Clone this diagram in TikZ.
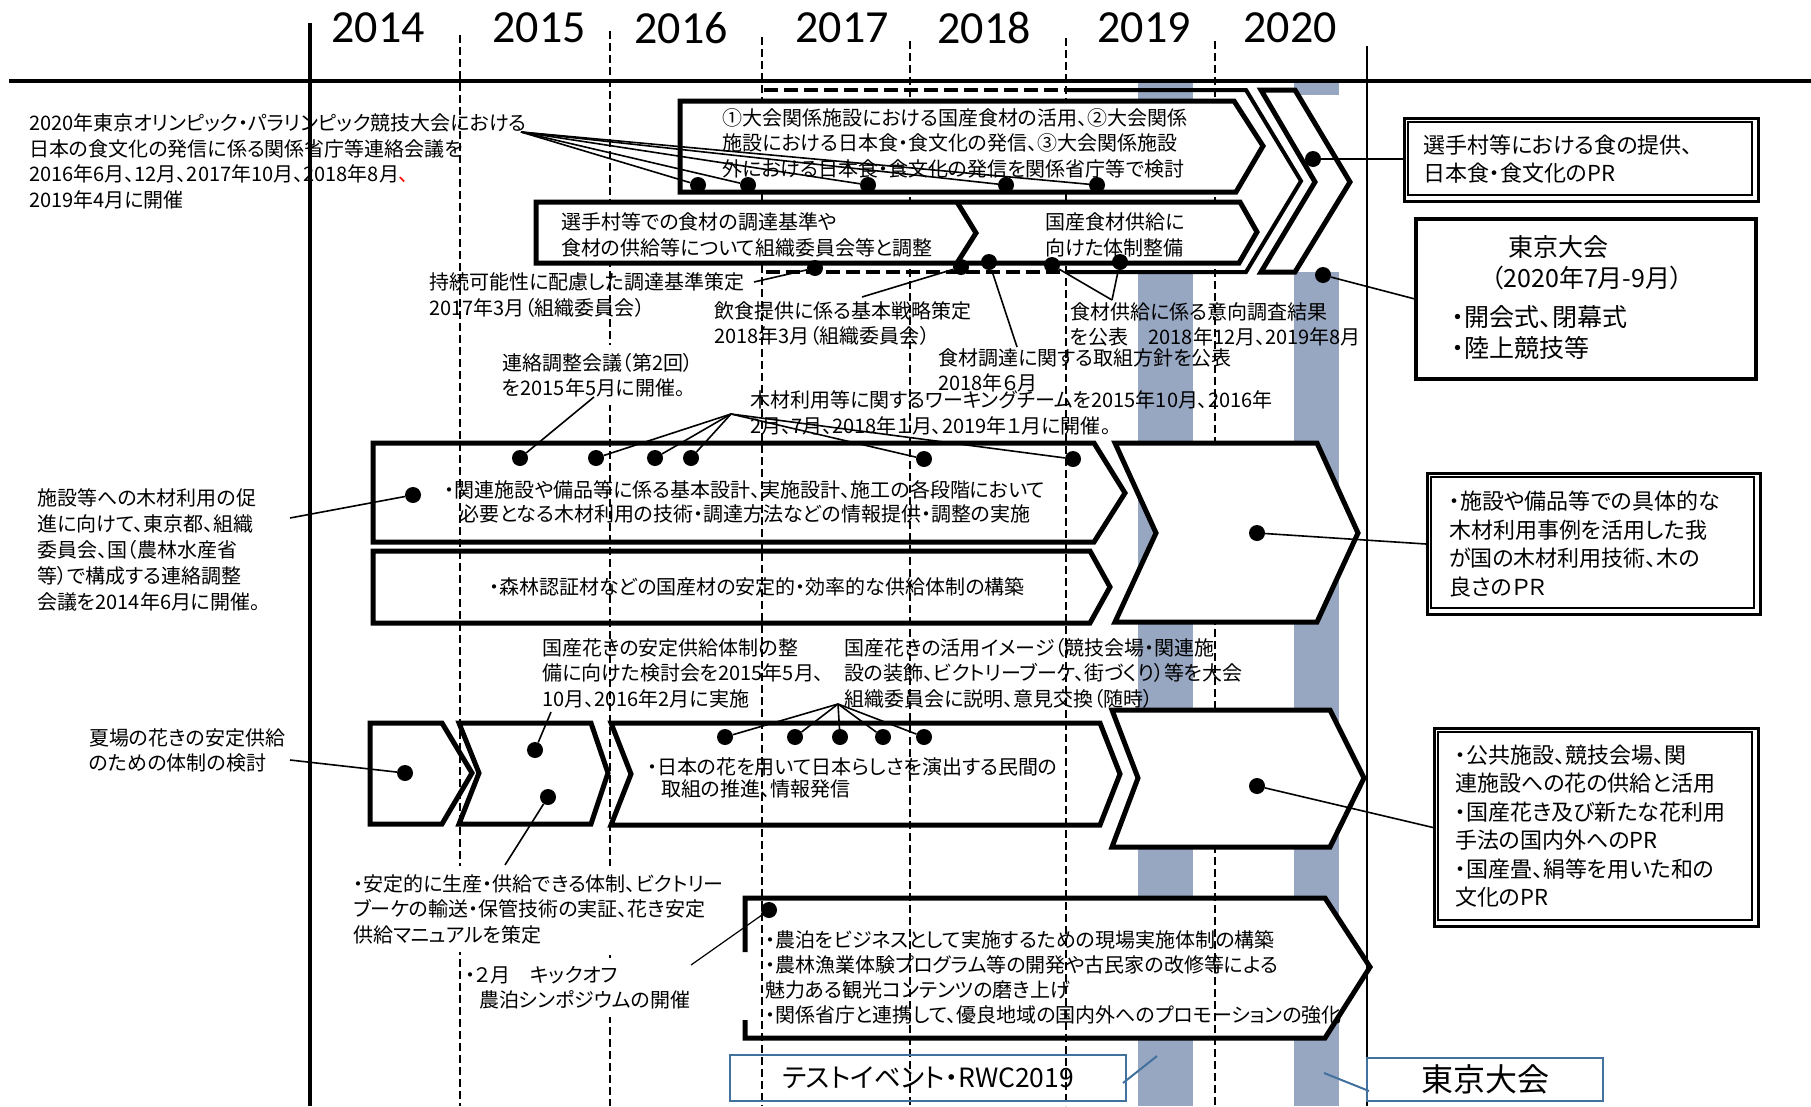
\documentclass[tikz,border=0pt]{standalone}
\usepackage{fontspec}
\setmainfont{Noto Sans CJK JP}[RawFeature={+palt}]
\newfontfamily\yearfont{Carlito}
\definecolor{barblue}{RGB}{151,167,194}
\definecolor{boxblue}{RGB}{65,113,156}
\begin{document}
\begin{tikzpicture}[x=1pt,y=-1pt,
  txt/.style={font=\fontsize{20}{25.5}\selectfont, align=left, inner sep=0pt, anchor=west},
  wtxt/.style={txt, fill=white, inner xsep=2pt, inner ysep=8pt},
  boxtxt/.style={txt, font=\fontsize{22}{28.5}\selectfont},
  dotn/.style={circle, fill=black, inner sep=0pt, minimum size=16pt},
  lnk/.style={line width=1.6pt},
  chev/.style={line width=5pt, fill=white, line join=miter},
  yearline/.style={line width=1.4pt, dash pattern=on 8pt off 4pt},
  outerdash/.style={line width=4pt, dash pattern=on 14pt off 6pt},
  yr/.style={font=\yearfont\fontsize{46}{46}\selectfont, inner sep=0pt},
  bluel/.style={draw=boxblue, line width=2pt},
  outerbox/.style={draw, line width=3pt, inner sep=0pt, anchor=north west},
  innerbox/.style={draw, line width=1.3pt},
]
\useasboundingbox (0,0) rectangle (1811,1106);

% blue bars
\fill[barblue] (1138,83) rectangle (1193,99);
\fill[barblue] (1294,83) rectangle (1339,95);
\fill[barblue] (1138,272) rectangle (1193,1106);
\fill[barblue] (1294,272) rectangle (1339,1106);

% left chevrons (white fill)
\draw[chev] (373,443) -- (1094,443) -- (1125,493) -- (1094,542) -- (373,542) -- cycle;
\draw[chev] (373,551) -- (1090,551) -- (1110,587) -- (1090,623) -- (373,623) -- cycle;
\draw[chev] (370,723) -- (442,723) -- (472,773) -- (442,824) -- (370,824) -- cycle;
\draw[chev] (459,723) -- (591,723) -- (608,773) -- (591,824) -- (459,824) -- (479,773) -- cycle;
\draw[chev] (611,723) -- (1100,723) -- (1120,774) -- (1100,825) -- (611,825) -- (631,774) -- cycle;
\fill[white] (745,898) -- (1325,898) -- (1370,967) -- (1325,1038) -- (745,1038) -- cycle;
\draw[chev, fill=none] (745,952) -- (745,898) -- (1325,898) -- (1370,967) -- (1325,1038) -- (745,1038) -- (745,1020);

% axes and year lines
\foreach \xx/\yy in {460/35, 610/31, 762/37, 910/41, 1066/38, 1215/41}
  \draw[yearline] (\xx,\yy) -- (\xx,1106);
\draw[line width=4pt] (9,81) -- (1811,81);
\draw[line width=4pt] (310,23) -- (310,1106);
\draw[line width=1.3pt] (1367,46) -- (1367,1106);

% year labels
\node[yr] (y2014) at (378,28) {2014};
\node[yr] (y2015) at (539,28) {2015};
\node[yr] (y2016) at (681,28) {2016};
\node[yr] (y2017) at (842,28) {2017};
\node[yr] (y2018) at (984,28) {2018};
\node[yr] (y2019) at (1144,28) {2019};
\node[yr] (y2020) at (1290,28) {2020};

% food row
\draw[outerdash] (764,90) -- (1068,90);
\draw[outerdash] (766,272) -- (1068,272);
\draw[line width=4pt, line join=miter] (1068,90) -- (1246,90) -- (1301,181) -- (1246,272) -- (1068,272);
\draw[chev] (680,101) -- (1234,101) -- (1263,146) -- (1236,192) -- (680,192) -- cycle;
\draw[chev] (536,202) -- (1240,202) -- (1257,232) -- (1239,263) -- (536,263) -- cycle;
\draw[line width=5pt, line join=miter] (957,202) -- (976,233) -- (957,263);
\draw[chev] (1261,90) -- (1295,90) -- (1350,182) -- (1295,272) -- (1261,272) -- (1315,182) -- cycle;

% big right chevrons
\draw[chev] (1115,443) -- (1317,443) -- (1358,533) -- (1317,622) -- (1115,622) -- (1156,533) -- cycle;
\draw[chev] (1112,710) -- (1330,710) -- (1364,778) -- (1330,847) -- (1112,847) -- (1138,778) -- cycle;

% texts
\node[txt] (tFoodMeet) at (29,161.5) {2020年東京オリンピック・パラリンピック競技大会における\\日本の食文化の発信に係る関係省庁等連絡会議を\\2016年6月、12月、2017年10月、2018年8月{\color{red}、}\\2019年4月に開催};
\node[txt] (tFood1) at (722,143) {①大会関係施設における国産食材の活用、②大会関係\\施設における日本食・食文化の発信、③大会関係施設\\外における日本食・食文化の発信を関係省庁等で検討};
\node[txt] (tFood2a) at (561,235) {選手村等での食材の調達基準や\\食材の供給等について組織委員会等と調整};
\node[txt] (tFood2b) at (1045,235) {国産食材供給に\\向けた体制整備};
\node[txt] (tSus) at (429,295) {持続可能性に配慮した調達基準策定\\2017年3月（組織委員会）};
\node[txt] (tStrat) at (714,323.5) {飲食提供に係る基本戦略策定\\2018年3月（組織委員会）};
\node[txt] (tPol) at (938,370.5) {食材調達に関する取組方針を公表\\2018年６月};
\node[txt] (tSurv) at (1070,324.5) {食材供給に係る意向調査結果\\を公表　2018年12月、2019年8月};
\node[wtxt] (tMeet2) at (500,375) {連絡調整会議（第2回）\\を2015年5月に開催。};
\node[txt] (tWT) at (750,413) {木材利用等に関するワーキングチームを2015年10月、2016年\\2月、7月、2018年１月、2019年１月に開催。};
\node[txt, font=\fontsize{20}{26}\selectfont] (tWoodL) at (37,549.5) {施設等への木材利用の促\\進に向けて、東京都、組織\\委員会、国（農林水産省\\等）で構成する連絡調整\\会議を2014年6月に開催。};
\node[txt, align=center, anchor=center, font=\fontsize{20}{24}\selectfont] (tWood1) at (745,502) {・関連施設や備品等に係る基本設計、実施設計、施工の各段階において\\必要となる木材利用の技術・調達方法などの情報提供・調整の実施};
\node[txt, anchor=center] (tWood2) at (757,587) {・森林認証材などの国産材の安定的・効率的な供給体制の構築};
\node[txt] (tFlMeet) at (542,673) {国産花きの安定供給体制の整\\備に向けた検討会を2015年5月、\\10月、2016年2月に実施};
\node[txt] (tFlImg) at (844,673) {国産花きの活用イメージ（競技会場・関連施\\設の装飾、ビクトリーブーケ、街づくり）等を大会\\組織委員会に説明、意見交換（随時）};
\node[txt] (tFlL) at (89,750.5) {夏場の花きの安定供給\\のための体制の検討};
\node[txt, font=\fontsize{20}{22.5}\selectfont] (tFl3) at (647,778) {・日本の花を用いて日本らしさを演出する民間の\\\hspace*{14pt}取組の推進、情報発信};
\node[wtxt] (tFlStab) at (351,909) {・安定的に生産・供給できる体制、ビクトリー\\ブーケの輸送・保管技術の実証、花き安定\\供給マニュアルを策定};
\node[wtxt] (tKick) at (463,987.5) {・２月　キックオフ\\\hspace*{14pt}農泊シンポジウムの開催};
\node[txt, font=\fontsize{20}{25}\selectfont] (tNo) at (765,977.5) {・農泊をビジネスとして実施するための現場実施体制の構築\\・農林漁業体験プログラム等の開発や古民家の改修等による\\魅力ある観光コンテンツの磨き上げ\\・関係省庁と連携して、優良地域の国内外へのプロモーションの強化};

% right boxes
\node[outerbox, minimum width=354pt, minimum height=83pt] (bFood) at (1403,117) {};
\draw[innerbox] (1408,122) rectangle (1752,195);
\node[boxtxt, font=\fontsize{22}{28}\selectfont] (tBox1) at (1423,159) {選手村等における食の提供、\\日本食・食文化のPR};
\node[outerbox, line width=3.5pt, minimum width=340pt, minimum height=160pt] (bTokyo) at (1414,217) {};
\node[txt, anchor=center, font=\fontsize{25}{31}\selectfont] (tTokA) at (1558,247) {東京大会};
\node[txt, anchor=center, font=\fontsize{25}{31}\selectfont] (tTokB) at (1587,278) {（2020年7月-9月）};
\node[txt, font=\fontsize{25}{31}\selectfont] (tTokC) at (1452,332.5) {・開会式、閉幕式\\・陸上競技等};
\node[outerbox, minimum width=333pt, minimum height=141pt] (bWood) at (1426,472) {};
\draw[innerbox] (1431,477) rectangle (1754,608);
\node[boxtxt] (tWoodBox) at (1449,544) {・施設や備品等での具体的な\\木材利用事例を活用した我\\が国の木材利用技術、木の\\良さのＰＲ};
\node[outerbox, minimum width=324pt, minimum height=198pt] (bFlower) at (1433,727) {};
\draw[innerbox] (1438,732) rectangle (1752,920);
\node[boxtxt] (tFlBox) at (1455,826) {・公共施設、競技会場、関\\連施設への花の供給と活用\\・国産花き及び新たな花利用\\手法の国内外へのPR\\・国産畳、絹等を用いた和の\\文化のPR};

\node[bluel, minimum width=396pt, minimum height=46pt, inner sep=0pt, font=\fontsize{26.5}{26.5}\selectfont] (tTest) at (928,1078) {テストイベント・RWC2019};
\node[bluel, minimum width=236pt, minimum height=43pt, inner sep=0pt, font=\fontsize{32}{32}\selectfont] (tTokyoBox) at (1485,1079) {東京大会};

% dots
\node[dotn] (dF1) at (698,185) {};
\node[dotn] (dF2) at (748,185) {};
\node[dotn] (dF3) at (868,185) {};
\node[dotn] (dF4) at (1006,185) {};
\node[dotn] (dF5) at (1097,185) {};
\node[dotn] (dG1) at (815,268) {};
\node[dotn] (dG2) at (961,267) {};
\node[dotn] (dG3) at (989,262) {};
\node[dotn] (dG4) at (1052,265) {};
\node[dotn] (dG5) at (1120,262) {};
\node[dotn] (dArrow) at (1313,159) {};
\node[dotn] (dTokyo) at (1323,275) {};
\node[dotn] (dW0) at (413,495) {};
\node[dotn] (dW1) at (520,458) {};
\node[dotn] (dW2) at (596,458) {};
\node[dotn] (dW3) at (655,458) {};
\node[dotn] (dW4) at (691,458) {};
\node[dotn] (dW5) at (924,459) {};
\node[dotn] (dW6) at (1073,459) {};
\node[dotn] (dWbig) at (1257,533) {};
\node[dotn] (dFl0) at (405,773) {};
\node[dotn] (dFl1) at (535,750) {};
\node[dotn] (dFl2) at (548,797) {};
\node[dotn] (dFl3) at (725,737) {};
\node[dotn] (dFl4) at (795,737) {};
\node[dotn] (dFl5) at (840,737) {};
\node[dotn] (dFl6) at (883,737) {};
\node[dotn] (dFl7) at (924,737) {};
\node[dotn] (dFlBig) at (1257,786) {};
\node[dotn] (dNo) at (769,910) {};

% connector free ends
\coordinate (cFoodSrc) at (521,132);
\coordinate (cSusSrc) at (754,282);
\coordinate (cStratSrc) at (862,297);
\coordinate (cPolSrc) at (1017,347);
\coordinate (cSurvSrc) at (1112,300);
\coordinate (cMeet2) at (594,397);
\coordinate (cWT) at (731,414);
\coordinate (cWoodSrc) at (290,518);
\coordinate (cFlSrc) at (290,760);
\coordinate (cFlMeet) at (551,712);
\coordinate (cFlStab) at (505,865);
\coordinate (cFlApex) at (838,704);
\coordinate (cNoSrc) at (691,965);
\coordinate (cTestEnd) at (1157,1056);
\coordinate (cTokEnd) at (1324,1073);

% connectors
\foreach \d in {dF1,dF2,dF3,dF4,dF5} \draw[lnk] (cFoodSrc) -- (\d);
\draw[lnk] (cSusSrc) -- (dG1);
\draw[lnk] (cStratSrc) -- (dG2);
\draw[lnk] (dG3) -- (cPolSrc);
\draw[lnk] (cSurvSrc) -- (dG4);
\draw[lnk] (cSurvSrc) -- (dG5);
\draw[lnk] (dArrow) -- (dArrow -| bFood.west);
\draw[lnk] (dTokyo) -- (bTokyo.west);
\draw[lnk] (cMeet2) -- (dW1);
\foreach \d in {dW2,dW3,dW4,dW5,dW6} \draw[lnk] (cWT) -- (\d);
\draw[lnk] (cWoodSrc) -- (dW0);
\draw[lnk] (dWbig) -- (bWood.west);
\draw[lnk] (cFlSrc) -- (dFl0);
\draw[lnk] (cFlMeet) -- (dFl1);
\draw[lnk] (dFl2) -- (cFlStab);
\foreach \d in {dFl3,dFl4,dFl5,dFl6,dFl7} \draw[lnk] (cFlApex) -- (\d);
\draw[lnk] (dFlBig) -- (bFlower.west);
\draw[lnk, line width=1.2pt] (dNo) -- (cNoSrc);
\draw[boxblue, line width=2pt] ([xshift=-4pt,yshift=-5pt]tTest.east) -- (cTestEnd);
\draw[boxblue, line width=2pt] (cTokEnd) -- ([xshift=3pt,yshift=-12pt]tTokyoBox.west);
\end{tikzpicture}
\end{document}
